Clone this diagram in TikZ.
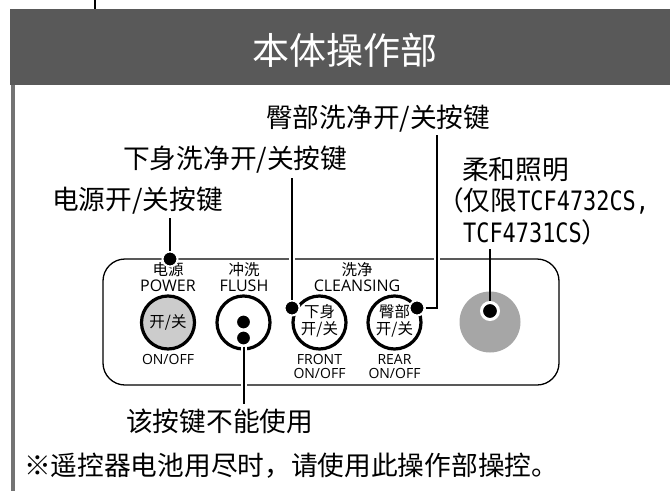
\documentclass[tikz,border=0pt]{standalone}
\usepackage{fontspec}
\setmainfont{Noto Sans CJK SC}
\setsansfont{Open Sans}
\setmonofont[FakeStretch=0.82]{DejaVu Sans Mono}
\tikzset{
  callout/.style={anchor=base west, inner sep=0pt, font=\fontsize{26.7}{30}\selectfont},
  panelcjk/.style={inner sep=0pt, font=\fontsize{15.5}{17}\selectfont},
  panellatin/.style={inner sep=0pt, font=\sffamily\fontsize{16}{17}\selectfont},
  panelsmall/.style={inner sep=0pt, font=\sffamily\fontsize{14}{15}\selectfont},
  keytext/.style={inner sep=0pt, font=\fontsize{15.5}{17}\selectfont},
  keyring/.style={draw, line width=3.2pt, circle, minimum size=53pt, inner sep=0pt},
  calldot/.style={circle, fill=black, draw=white, line width=2pt, minimum size=15pt, inner sep=0pt},
  leader/.style={line width=2pt},
  leaderhalo/.style={leader, preaction={draw=white, line width=6pt}}
}
\begin{document}
\begin{tikzpicture}[x=1pt, y=-1pt]
  \useasboundingbox (0,0) rectangle (670,491);

  %% Header band and page edges.
  \fill[fill=black!65] (10,9) rectangle (670,84.5);
  \draw[line width=2pt] (94.5,0) -- (94.5,9);
  \fill[fill=black!55] (11,84.5) rectangle (15,491);
  \node[text=white, inner sep=0pt, font=\fontsize{37}{40}\selectfont] (title) at (345,50) {本体操作部};

  %% Panel.
  \draw[line width=1.3pt, rounded corners=22pt] (103,259) rectangle (559,385);

  %% Keys.
  \node[keyring, fill=black!20] (power) at (168,322.5) {};
  \node[keyring] (flush) at (243.5,322.5) {};
  \node[keyring] (front) at (319.5,322.5) {};
  \node[keyring] (rear) at (394.5,322.5) {};
  \node[circle, fill=black!35, minimum size=61pt, inner sep=0pt] (light) at (490,322) {};

  \node[keytext] (powerkey) at (168,322) {开/关};
  \node[keytext] (frontkeya) at (319.5,312) {下身};
  \node[keytext] (frontkeyb) at (319.5,329) {开/关};
  \node[keytext] (rearkeya) at (394.5,312) {臀部};
  \node[keytext] (rearkeyb) at (394.5,329) {开/关};

  %% Text on the panel.
  \node[panelcjk] (powerzh) at (168,270) {电源};
  \node[panellatin] (powername) at (168,286) {POWER};
  \node[panelcjk] (flushzh) at (244,270) {冲洗};
  \node[panellatin] (flushname) at (244,286) {FLUSH};
  \node[panelcjk] (cleansezh) at (357,270) {洗净};
  \node[panellatin] (cleansename) at (357,286) {CLEANSING};
  \node[panelsmall] (poweroff) at (168,359) {ON/OFF};
  \node[panelsmall] (frontname) at (319.5,359) {FRONT};
  \node[panelsmall] (frontoff) at (319.5,373) {ON/OFF};
  \node[panelsmall] (rearname) at (394.5,359) {REAR};
  \node[panelsmall] (rearoff) at (394.5,373) {ON/OFF};

  %% Call-out text.
  \node[callout] (reartext) at (266,127) {臀部洗净开/关按键};
  \node[callout] (fronttext) at (123,168) {下身洗净开/关按键};
  \node[callout] (powertext) at (52,209) {电源开/关按键};
  \node[callout] (lighta) at (462,179) {柔和照明};
  \node[callout] (lightb) at (437,210) {^^^^ff08仅限\texttt{TCF4732CS,}};
  \node[callout] (lightc) at (463,242) {\texttt{TCF4731CS}^^^^ff09};
  \node[callout] (unused) at (126,431.5) {该按键不能使用};
  \node[callout] (notetext) at (24,475) {※遥控器电池用尽时^^^^ff0c请使用此操作部操控。};

  %% Leaders.
  \node[calldot] (powerdot) at (170,259) {};
  \node[calldot] (flushdota) at (243.5,322) {};
  \node[calldot] (flushdotb) at (243.5,338) {};
  \node[calldot] (frontdot) at (292,308) {};
  \node[calldot] (reardot) at (417,308) {};
  \node[calldot, line width=3pt, minimum size=17pt] (lightdot) at (490,311) {};

  \coordinate (powerend) at (170,218);
  \coordinate (frontend) at (292,178);
  \coordinate (rearend) at (437,135);
  \coordinate (lightend) at (490,249);
  \coordinate (unusedend) at (243.5,404);

  \draw[leader] (powerdot) -- (powerend);
  \draw[leaderhalo] (frontdot) -- (frontend);
  \draw[leaderhalo] (reardot) -| (rearend);
  \draw[leader] (lightdot) -- (lightend);
  \draw[leaderhalo] (flushdotb) -- (unusedend);

\end{tikzpicture}
\end{document}
